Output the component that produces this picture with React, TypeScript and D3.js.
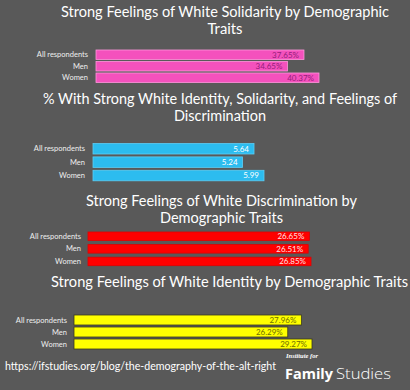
import React, { useEffect, useRef } from 'react';
import * as d3 from 'd3';

// categories shared by every panel
const categories = ['All respondents', 'Men', 'Women'];

// series values, one list per panel
const solidarity = [37.65, 34.65, 40.37];
const combined = [5.64, 5.24, 5.99];
const discrimination = [26.65, 26.51, 26.85];
const identity = [27.96, 26.29, 29.27];

const titleSolidarity = ['Strong Feelings of White Solidarity by Demographic', 'Traits'];
const titleCombined = ['% With Strong White Identity, Solidarity, and Feelings of', 'Discrimination'];
const titleDiscrimination = ['Strong Feelings of White Discrimination by', 'Demographic Traits'];
const titleIdentity = ['Strong Feelings of White Identity by Demographic Traits'];

const sourceUrl = 'https://ifstudies.org/blog/the-demography-of-the-alt-right';

// layout per panel (kept apart from the data)
const panels = [
	{
		values: solidarity, title: titleSolidarity, fmt: (v: number) => v.toFixed(2) + '%',
		titleY: [17, 34], titleX: 225, titleW: [328, 35],
		x0: 96, x1: 319, top: 50, step: 11.5, barH: 9.5, labelX: 88,
		fill: '#f451bd', stroke: '#ff96dc', text: '#95207a'
	},
	{
		values: combined, title: titleCombined, fmt: (v: number) => v.toFixed(2),
		titleY: [104, 121], titleX: 220, titleW: [354, 92],
		x0: 93, x1: 264, top: 143.5, step: 13.4, barH: 10.5, labelX: 85,
		fill: '#2cbcef', stroke: '#5ccdf4', text: '#ffffff'
	},
	{
		values: discrimination, title: titleDiscrimination, fmt: (v: number) => v.toFixed(2) + '%',
		titleY: [206, 223], titleX: 221.5, titleW: [271, 123],
		x0: 88, x1: 311, top: 232, step: 12.6, barH: 8.5, labelX: 81,
		fill: '#ff0000', stroke: '#e00000', text: '#ffe4e4'
	},
	{
		values: identity, title: titleIdentity, fmt: (v: number) => v.toFixed(2) + '%',
		titleY: [287], titleX: 229.5, titleW: [357],
		x0: 74, x1: 312, top: 315, step: 12, barH: 10, labelX: 67,
		fill: '#ffff00', stroke: '#3a3a1a', text: '#6e6e00'
	}
];

const font = 'Lato, "Open Sans", sans-serif';

export default function App() {
	const ref = useRef<SVGSVGElement>(null);

	useEffect(() => {
		const svg = d3.select(ref.current);
		svg.selectAll('*').remove();

		svg.append('rect').attr('width', 410).attr('height', 390).attr('fill', '#595959');

		panels.forEach(p => {
			const g = svg.append('g');

			// titles
			p.title.forEach((line, i) => {
				g.append('text')
					.attr('x', p.titleX)
					.attr('y', p.titleY[i])
					.attr('text-anchor', 'middle')
					.attr('fill', '#ffffff')
					.attr('font-family', font)
					.attr('font-size', 14.5)
					.attr('textLength', p.titleW[i])
					.attr('lengthAdjust', 'spacingAndGlyphs')
					.text(line);
			});

			// scales
			const xScale = d3.scaleLinear()
				.domain([0, d3.max(p.values) as number])
				.range([p.x0, p.x1]);
			const pad = 1 - p.barH / p.step;
			const yScale = d3.scaleBand()
				.domain(categories)
				.range([p.top - (p.step - p.barH) / 2, p.top - (p.step - p.barH) / 2 + 3 * p.step])
				.paddingInner(pad)
				.paddingOuter(pad / 2);

			const rows = categories.map((c, i) => ({ c, v: p.values[i] }));

			g.selectAll('rect.bar')
				.data(rows)
				.enter()
				.append('rect')
				.attr('class', 'bar')
				.attr('x', xScale(0))
				.attr('y', d => yScale(d.c) as number)
				.attr('width', d => xScale(d.v) - xScale(0))
				.attr('height', yScale.bandwidth())
				.attr('fill', p.fill)
				.attr('stroke', p.stroke)
				.attr('stroke-width', 0.8);

			// category labels
			g.selectAll('text.cat')
				.data(rows)
				.enter()
				.append('text')
				.attr('class', 'cat')
				.attr('x', p.labelX)
				.attr('y', d => (yScale(d.c) as number) + yScale.bandwidth() / 2)
				.attr('dy', '0.35em')
				.attr('text-anchor', 'end')
				.attr('fill', '#eeeeee')
				.attr('font-family', font)
				.attr('font-size', 7.5)
				.text(d => d.c);

			// value labels
			g.selectAll('text.val')
				.data(rows)
				.enter()
				.append('text')
				.attr('class', 'val')
				.attr('x', d => xScale(d.v) - 5)
				.attr('y', d => (yScale(d.c) as number) + yScale.bandwidth() / 2)
				.attr('dy', '0.35em')
				.attr('text-anchor', 'end')
				.attr('fill', p.text)
				.attr('font-family', font)
				.attr('font-size', 8)
				.text(d => p.fmt(d.v));
		});

		// footer
		svg.append('text')
			.attr('x', 5)
			.attr('y', 370)
			.attr('fill', '#ffffff')
			.attr('font-family', font)
			.attr('font-size', 12)
			.attr('textLength', 271)
			.attr('lengthAdjust', 'spacingAndGlyphs')
			.text(sourceUrl);

		svg.append('text')
			.attr('x', 286)
			.attr('y', 358)
			.attr('fill', '#ffffff')
			.attr('font-family', '"Liberation Serif", serif')
			.attr('font-style', 'italic')
			.attr('font-weight', 'bold')
			.attr('font-size', 6)
			.attr('textLength', 32)
			.attr('lengthAdjust', 'spacingAndGlyphs')
			.text('Institute for');

		svg.append('text')
			.attr('x', 285)
			.attr('y', 379)
			.attr('fill', '#ffffff')
			.attr('font-family', '"Open Sans", sans-serif')
			.attr('font-weight', 'bold')
			.attr('font-size', 15)
			.attr('textLength', 48)
			.attr('lengthAdjust', 'spacingAndGlyphs')
			.text('Family');

		svg.append('text')
			.attr('x', 336)
			.attr('y', 379)
			.attr('fill', '#ffffff')
			.attr('font-family', '"Open Sans", sans-serif')
			.attr('font-weight', 300)
			.attr('font-size', 15)
			.attr('textLength', 55)
			.attr('lengthAdjust', 'spacingAndGlyphs')
			.text('Studies');
	}, []);

	return (
		<svg
			ref={ref}
			width={410}
			height={390}
			style={{ position: 'fixed', left: 0, top: 0, display: 'block' }}
		/>
	);
}
